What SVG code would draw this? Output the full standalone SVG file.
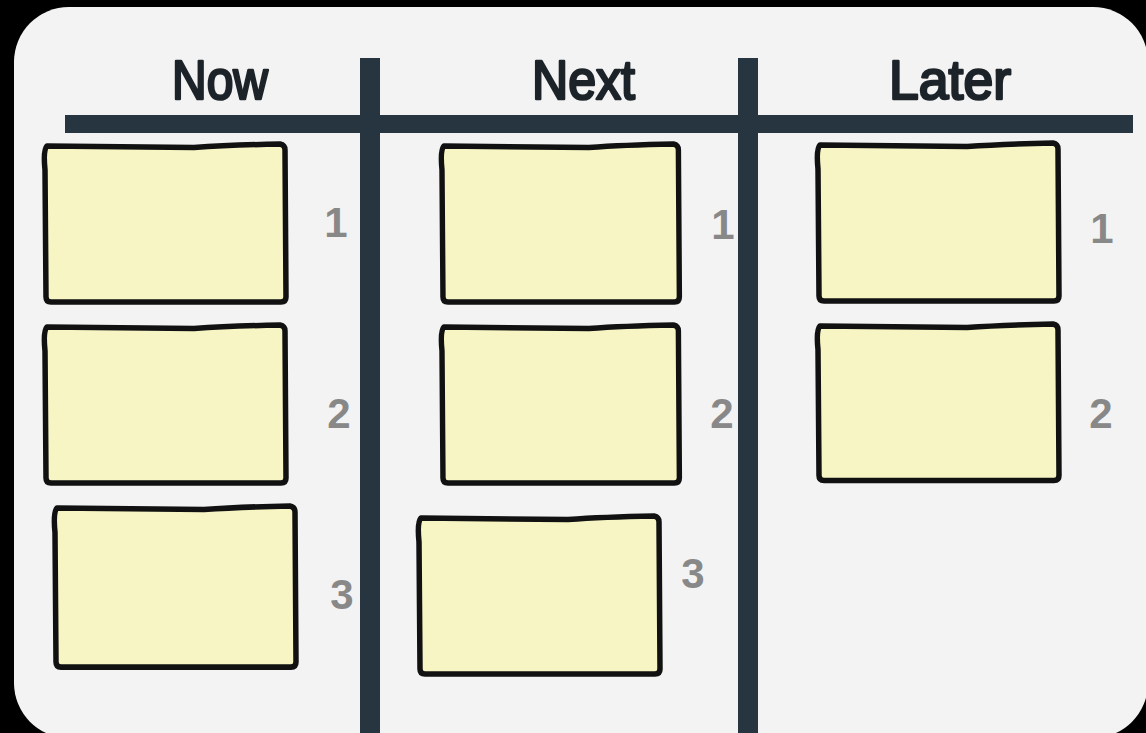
<svg xmlns="http://www.w3.org/2000/svg" width="1146" height="733" viewBox="0 0 1146 733">
<style>
.hdr{font-family:"Liberation Sans",Arial,sans-serif;font-weight:normal;font-size:55px;fill:#1c2329;stroke:#1c2329;stroke-width:2.6;stroke-linejoin:round}
.num{font-family:"Liberation Sans",Arial,sans-serif;font-weight:bold;font-size:42px;fill:#888;text-anchor:middle}
.note{fill:#f7f5c4;stroke:#111;stroke-width:5.5;stroke-linejoin:round}
.bar{stroke:#263540;fill:none}
</style>
<defs>
<path id="sticky" d="M3,1 L150,2.5 Q185,0 236,-1 Q241,0 241,5 L242,152 Q242,157 237,157 L7,157 Q2,157 2,152 L1,25 Q-1,5 3,1 Z"/>
</defs>
<rect x="0" y="0" width="1146" height="733" fill="#000"/>
<rect x="14" y="7" width="1134" height="731" rx="55" fill="#f3f3f3"/>
<g id="connectors">
<line class="bar" x1="65" y1="124" x2="1133" y2="124" stroke-width="18"/>
<line class="bar" x1="370" y1="58" x2="370" y2="740" stroke-width="20"/>
<line class="bar" x1="748" y1="58" x2="748" y2="740" stroke-width="20"/>
</g>
<g id="headers">
<text class="hdr" x="172" y="99" textLength="96" lengthAdjust="spacingAndGlyphs">Now</text>
<text class="hdr" x="532" y="99" textLength="103" lengthAdjust="spacingAndGlyphs">Next</text>
<text class="hdr" x="889" y="99" textLength="122" lengthAdjust="spacingAndGlyphs">Later</text>
</g>
<g id="now-1"><use href="#sticky" class="note" transform="translate(44,145)"/><text class="num" x="336" y="237">1</text></g>
<g id="now-2"><use href="#sticky" class="note" transform="translate(44,326)"/><text class="num" x="339" y="428">2</text></g>
<g id="now-3"><use href="#sticky" class="note" transform="translate(54,507) scale(1,1.02)"/><text class="num" x="342" y="609">3</text></g>
<g id="next-1"><use href="#sticky" class="note" transform="translate(441,145) scale(0.985,1)"/><text class="num" x="723" y="239">1</text></g>
<g id="next-2"><use href="#sticky" class="note" transform="translate(441,326) scale(0.985,1)"/><text class="num" x="722" y="428">2</text></g>
<g id="next-3"><use href="#sticky" class="note" transform="translate(418,517)"/><text class="num" x="693" y="588">3</text></g>
<g id="later-1"><use href="#sticky" class="note" transform="translate(817,144)"/><text class="num" x="1102" y="243">1</text></g>
<g id="later-2"><use href="#sticky" class="note" transform="translate(817,325) scale(1,0.99)"/><text class="num" x="1101" y="428">2</text></g>
</svg>
